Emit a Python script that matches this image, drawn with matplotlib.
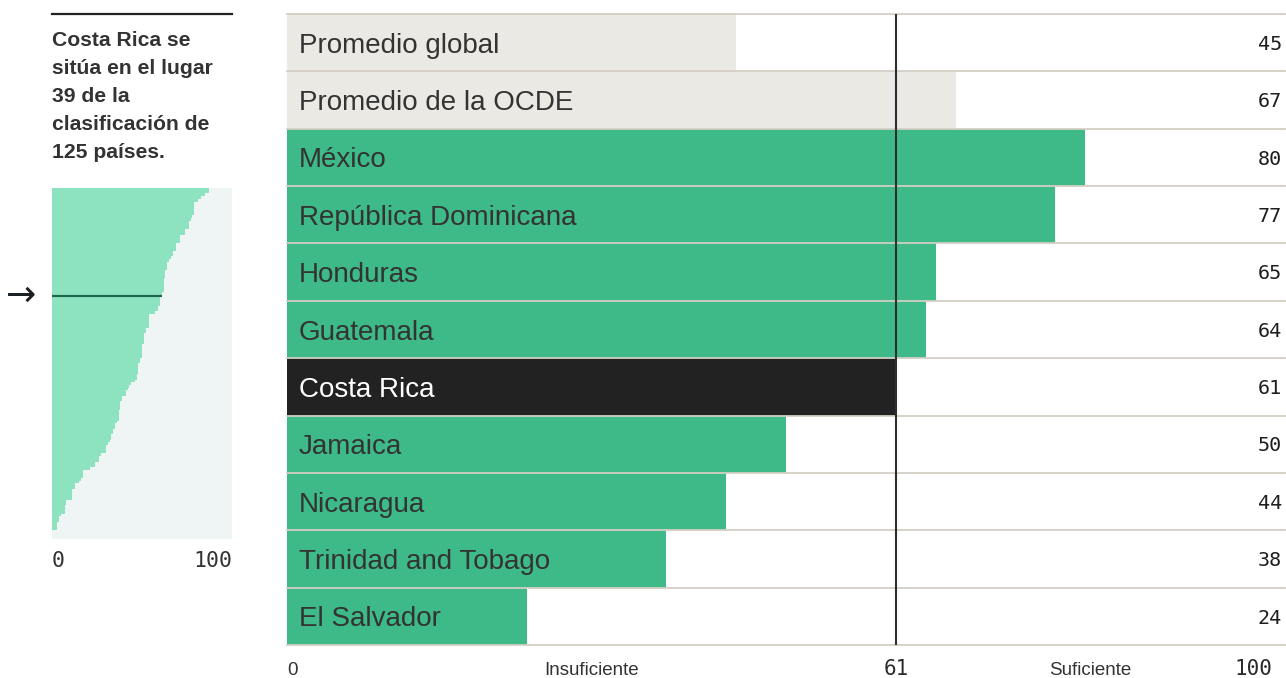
import matplotlib
matplotlib.use("Agg")
import matplotlib.pyplot as plt

# ---------------- data ----------------
categories = ["Promedio global", "Promedio de la OCDE", "México", "República Dominicana",
              "Honduras", "Guatemala", "Costa Rica", "Jamaica", "Nicaragua",
              "Trinidad and Tobago", "El Salvador"]
values = [45, 67, 80, 77, 65, 64, 61, 50, 44, 38, 24]
kinds = ["avg", "avg", "c", "c", "c", "c", "hl", "c", "c", "c", "c"]
threshold = 61
axis_labels = ["Insuficiente", "Suficiente"]

title_lines = ["Costa Rica se", "sitúa en el lugar", "39 de la", "clasificación de", "125 países."]
rank_values = [87, 87, 85, 83, 81, 79, 79, 79, 79, 79, 78, 77, 76, 76, 76, 74, 74, 71, 71, 71,
               69, 69, 69, 67, 67, 66, 65, 64, 64, 64, 63, 63,
               63, 62, 62, 62, 62, 62, 61, 60, 60, 60, 60, 59, 59, 57, 54, 54, 54, 54, 54, 52,
               52, 51, 51, 51, 51, 50, 50, 50, 50, 50, 49, 49,
               48, 48, 48, 48, 47, 47, 46, 44, 43, 42, 41, 41, 39, 39, 38, 38, 38, 37, 37, 37,
               37, 36, 35, 35, 34, 34, 33, 33, 32, 31, 30, 30, 30,
               27, 26, 26, 24, 24, 21, 17, 17, 17, 16, 15, 13, 13, 11, 11, 11, 11, 8, 8, 7, 7,
               7, 5, 4, 4, 3, 3, 3]
cr_rank = 39

# ---------------- style ----------------
W, H = 1286, 678
fig = plt.figure(figsize=(W / 100, H / 100), dpi=100)
fig.patch.set_facecolor("white")

def px_axes(x0, y0, x1, y1):
    return fig.add_axes([x0 / W, 1 - y1 / H, (x1 - x0) / W, (y1 - y0) / H])

SANS = ["Liberation Sans", "DejaVu Sans"]
MONO = ["DejaVu Sans Mono"]
GREEN = "#3dba87"
AVG = "#ebe9e4"
HL = "#222222"
SEP = "#d3cfc4"
TXT = "#333333"

# ---------------- main chart ----------------
ax = px_axes(287, 14, 1285, 645)
ax.set_xlim(0, 100)
ax.set_ylim(len(categories), 0)
ax.axis("off")
colmap = {"avg": AVG, "c": GREEN, "hl": HL}
ys = [i + 0.5 for i in range(len(categories))]
ax.barh(ys, values, height=1.0, color=[colmap[k] for k in kinds], edgecolor="none", zorder=1)
for i in range(len(categories) + 1):
    ax.axhline(i, color=SEP, lw=1.3, zorder=2, clip_on=False)
for y, cat, v, k in zip(ys, categories, values, kinds):
    ax.text(1.2, y, cat, ha="left", va="center_baseline", fontsize=20, family=SANS,
            color="white" if k == "hl" else TXT, zorder=3)
    ax.text(99.7, y + 0.03, f"{v}", ha="right", va="center", fontsize=14.5, family=MONO,
            color="#1e1e1e", zorder=3)
ax.axvline(threshold, color="#2b2f33", lw=1.5, zorder=4)

yb = 11.44
ax.text(0, yb, "0", ha="left", va="center", fontsize=13.5, family=SANS, color=TXT, clip_on=False)
ax.text(threshold / 2, yb, axis_labels[0], ha="center", va="center", fontsize=13.5,
        family=SANS, color=TXT, clip_on=False)
ax.text((threshold + 100) / 2, yb, axis_labels[1], ha="center", va="center", fontsize=13.5,
        family=SANS, color=TXT, clip_on=False)
ax.text(threshold, yb - 0.03, f"{threshold}", ha="center", va="center", fontsize=15,
        family=MONO, color="#2a2a2a", clip_on=False)
ax.text(98.7, yb - 0.03, "100", ha="right", va="center", fontsize=15,
        family=MONO, color="#2a2a2a", clip_on=False)

# ---------------- left panel ----------------
fig.add_artist(plt.Line2D([52 / W, 232 / W], [1 - 14 / H, 1 - 14 / H], color="#222222", lw=1.6))
for j, line in enumerate(title_lines):
    fig.text(52 / W, 1 - (41 + 28 * j) / H, line, ha="left", va="center", fontsize=15.2,
             family=SANS, weight="bold", color=TXT)

ax2 = px_axes(52, 188, 232, 539)
n = len(rank_values)
ax2.set_xlim(0, 100)
ax2.set_ylim(n + 3.3, 0)
ax2.set_facecolor("#eff4f4")
for s in ax2.spines.values():
    s.set_visible(False)
ax2.set_xticks([])
ax2.set_yticks([])
ax2.barh([i + 0.5 for i in range(n)], rank_values, height=1.0, color="#8de3c0",
         edgecolor="none", linewidth=0)
ax2.plot([0, rank_values[cr_rank - 1]], [cr_rank + 0.5, cr_rank + 0.5], color="#1f6650",
         lw=1.6, solid_capstyle="butt")
ax2.text(0, n + 11.2, "0", ha="left", va="center", fontsize=15.5, family=MONO, color=TXT,
         clip_on=False)
ax2.text(100, n + 11.2, "100", ha="right", va="center", fontsize=15.5, family=MONO, color=TXT,
         clip_on=False)
fig.text(21 / W, 1 - 296 / H, "→", ha="center", va="center", fontsize=26,
         family=["DejaVu Sans"], color="#1a1f24")

fig.savefig("out.png", dpi=100, facecolor="white")
